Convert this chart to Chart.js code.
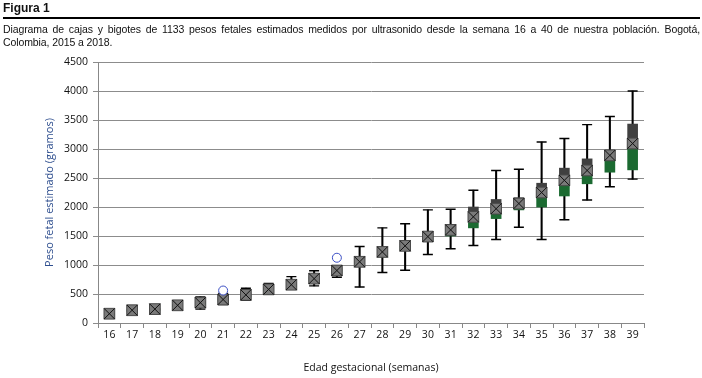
<!DOCTYPE html>
<html>
<head>
<meta charset="utf-8">
<script src="https://cdn.jsdelivr.net/npm/chart.js@4.4.1/dist/chart.umd.min.js"></script>
<style>
  body { margin: 0; background: #fff; }
  #wrap { position: relative; width: 702px; height: 378px; overflow: hidden; }
  #head { position: absolute; left: 3px; top: 0; width: 697px; font-family: "Liberation Sans", Arial, sans-serif; color: #111; }
  #fig { font-weight: bold; font-size: 12px; line-height: 15px; padding-top: 1px; }
  #rule { height: 2px; background: #000; margin-top: 1px; }
  #desc { font-size: 10.5px; line-height: 13px; margin-top: 4px; text-align: justify; text-align-last: left; letter-spacing: -0.1px; }
  canvas { position: absolute; left: 0; top: 0; }
</style>
</head>
<body>
<div id="wrap">
  <canvas id="boxChart" width="702" height="378"></canvas>
  <div id="head">
    <div id="fig">Figura 1</div>
    <div id="rule"></div>
    <div id="desc">Diagrama de cajas y bigotes de 1133 pesos fetales estimados medidos por ultrasonido desde la semana 16 a 40 de nuestra población. Bogotá, Colombia, 2015 a 2018.</div>
  </div>
</div>
<script>
// semanas de gestación
const weeks = ["16","17","18","19","20","21","22","23","24","25","26","27","28","29","30","31","32","33","34","35","36","37","38","39"];
// valores (gramos)
const minVals  = [110, 170, 190, 240, 240, 320, 390, 500, 590, 640, 790, 620, 870, 910, 1180, 1280, 1335, 1440, 1650, 1440, 1780, 2120, 2350, 2480];
const q1Vals   = [130, 195, 215, 280, 320, 370, 450, 550, 620, 720, 860, 1000, 1140, 1250, 1410, 1500, 1640, 1800, 1950, 2000, 2190, 2400, 2600, 2640];
const medVals  = [150, 215, 235, 300, 345, 400, 480, 580, 660, 760, 900, 1050, 1220, 1320, 1490, 1600, 1800, 1920, 2050, 2200, 2420, 2580, 2820, 3000];
const q3Vals   = [175, 235, 255, 325, 375, 440, 520, 620, 700, 800, 950, 1110, 1300, 1400, 1570, 1700, 2000, 2130, 2160, 2410, 2670, 2830, 2980, 3430];
const maxVals  = [200, 260, 280, 360, 450, 510, 600, 680, 800, 900, 980, 1320, 1640, 1710, 1950, 1960, 2290, 2630, 2650, 3120, 3180, 3420, 3560, 4000];
const meanVals = [160, 220, 240, 305, 350, 405, 485, 580, 660, 765, 905, 1055, 1225, 1330, 1490, 1605, 1830, 1970, 2060, 2250, 2460, 2630, 2890, 3095];
const outliers = [null, null, null, null, null, 560, null, null, null, null, 1125, null, null, null, null, null, null, null, null, null, null, null, null, null];
const yTicks = [0, 500, 1000, 1500, 2000, 2500, 3000, 3500, 4000, 4500];

const fontName = "'Open Sans', sans-serif";

new Chart(document.getElementById("boxChart").getContext("2d"), {
  type: "bar",
  data: {
    labels: weeks,
    datasets: [
      {
        label: "bigotes",
        data: weeks.map((w, i) => [minVals[i], maxVals[i]]),
        backgroundColor: "#000",
        barThickness: 1.4,
        order: 5,
      },
      {
        label: "Q1-mediana",
        data: weeks.map((w, i) => [q1Vals[i], medVals[i]]),
        backgroundColor: "#1b6a31",
        barThickness: 10,
        order: 4,
      },
      {
        label: "mediana-Q3",
        data: weeks.map((w, i) => [medVals[i], q3Vals[i]]),
        backgroundColor: "#404040",
        barThickness: 10,
        order: 4,
      },
      {
        type: "line",
        label: "min",
        data: minVals,
        showLine: false,
        pointStyle: "line",
        pointRadius: 5,
        borderColor: "#000",
        pointBorderWidth: 1.4,
        order: 3,
      },
      {
        type: "line",
        label: "max",
        data: maxVals,
        showLine: false,
        pointStyle: "line",
        pointRadius: 5,
        borderColor: "#000",
        pointBorderWidth: 1.4,
        order: 3,
      },
      {
        type: "line",
        label: "media",
        data: meanVals,
        showLine: false,
        pointStyle: "rect",
        pointRadius: 7.6,
        backgroundColor: "#7a7a7a",
        borderColor: "#4a4a4a",
        pointBorderWidth: 1,
        order: 2,
      },
      {
        type: "line",
        label: "media x",
        data: meanVals,
        showLine: false,
        pointStyle: "crossRot",
        pointRadius: 7.6,
        borderColor: "#111",
        pointBorderWidth: 1,
        order: 1,
      },
      {
        type: "line",
        label: "atípicos",
        data: outliers,
        showLine: false,
        pointStyle: "circle",
        pointRadius: 4.5,
        backgroundColor: "#fff",
        borderColor: "#3c4fc4",
        pointBorderWidth: 1,
        order: 0,
      },
    ],
  },
  options: {
    responsive: false,
    animation: false,
    layout: { padding: { top: 62, right: 58, bottom: 0, left: 0 } },
    plugins: {
      legend: { display: false },
      tooltip: { enabled: false },
    },
    scales: {
      x: {
        stacked: true,
        grid: { drawOnChartArea: false, drawTicks: true, tickLength: 5, color: "#888", offset: true },
        border: { color: "#888" },
        ticks: { color: "#111", font: { family: fontName, size: 10.5 }, padding: 1, maxRotation: 0 },
        title: {
          display: true,
          text: "Edad gestacional (semanas)",
          color: "#111",
          font: { family: fontName, size: 10.5 },
          padding: { top: 0, bottom: 4 },
        },
        afterFit: (scale) => { scale.height = 55; },
      },
      y: {
        min: 0,
        max: 4500,
        afterBuildTicks: (scale) => { scale.ticks = yTicks.map((v) => ({ value: v })); },
        grid: { color: "#8c8c8c", tickLength: 5 },
        border: { color: "#888" },
        ticks: { color: "#111", font: { family: fontName, size: 10.5 }, padding: 5, callback: (v) => String(v) },
        title: {
          display: true,
          text: "Peso fetal estimado (gramos)",
          color: "#2f4f8f",
          font: { family: fontName, size: 11 },
          padding: { top: 43, bottom: 0 },
        },
        afterFit: (scale) => { scale.width = 98; },
      },
    },
  },
});
</script>
</body>
</html>
